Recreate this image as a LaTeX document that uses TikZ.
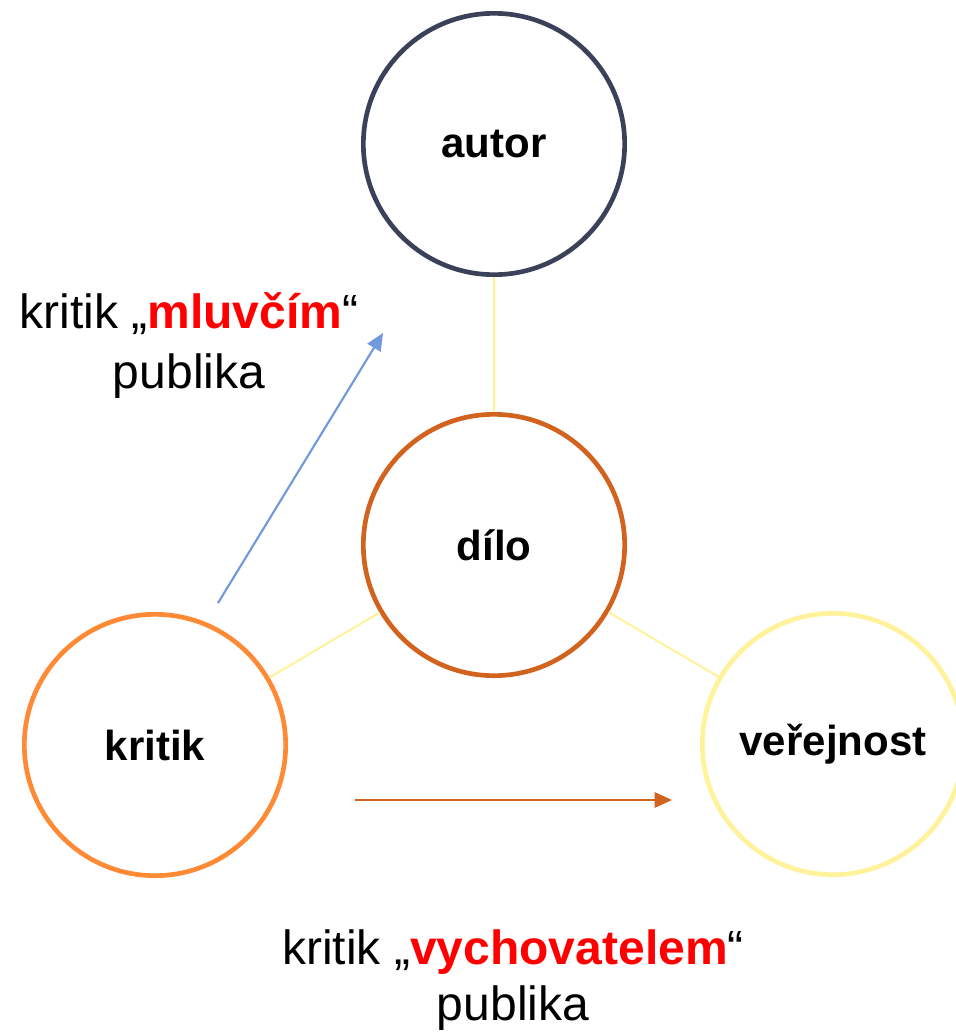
\documentclass[tikz,border=0pt]{standalone}
\usepackage{fontspec}
\setmainfont{Liberation Sans}
\usetikzlibrary{arrows.meta, positioning}
\definecolor{autorblue}{RGB}{59,65,88}
\definecolor{diloorange}{RGB}{210,99,30}
\definecolor{kritikorange}{RGB}{255,138,53}
\definecolor{verejyellow}{RGB}{255,242,154}
\definecolor{arrowblue}{RGB}{114,153,219}
\definecolor{hotred}{RGB}{255,0,0}

\begin{document}
\begin{tikzpicture}[x=0.75pt, y=-0.75pt,
    role/.style={circle, draw, line width=3.5pt, minimum size=196pt, inner sep=0pt,
        font=\fontsize{31.5}{36}\selectfont\bfseries},
    link/.style={draw=verejyellow, line width=1.5pt},
    say/.style={align=center, font=\fontsize{36}{42}\selectfont},
    tip/.style={-{Triangle[length=13pt, width=11.5pt]}, line width=1.6pt}]
    \clip (0,0) rectangle (956,1032);
    % the four roles
    \node[role, draw=autorblue] (autor) at (494,144) {autor};
    \node[role, draw=diloorange] (dilo) at (494,545) {dílo};
    \node[role, draw=kritikorange] (kritik) at (155,745) {kritik};
    \node[role, draw=verejyellow] (verejnost) at (833,744) {veřejnost};
    \draw[link] (autor) -- (dilo);
    \draw[link] (dilo) -- (kritik);
    \draw[link] (dilo) -- (verejnost);
    % the two roles of the critic
    \coordinate (mluvFrom) at (218,603);
    \coordinate (mluvTo) at (383,333);
    \coordinate (vychFrom) at (355,800);
    \coordinate (vychTo) at (672,800);
    \draw[tip, arrowblue] (mluvFrom) -- (mluvTo);
    \draw[tip, diloorange] (vychFrom) -- (vychTo);
    \node[say, font=\fontsize{36}{45}\selectfont] (mluvci) at (189,346) {kritik „\textbf{\color{hotred}mluvčím}“\\publika};
    \node[say] (vychovatel) at (513,980) {kritik „\textbf{\color{hotred}vychovatelem}“\\publika};
\end{tikzpicture}
\end{document}
